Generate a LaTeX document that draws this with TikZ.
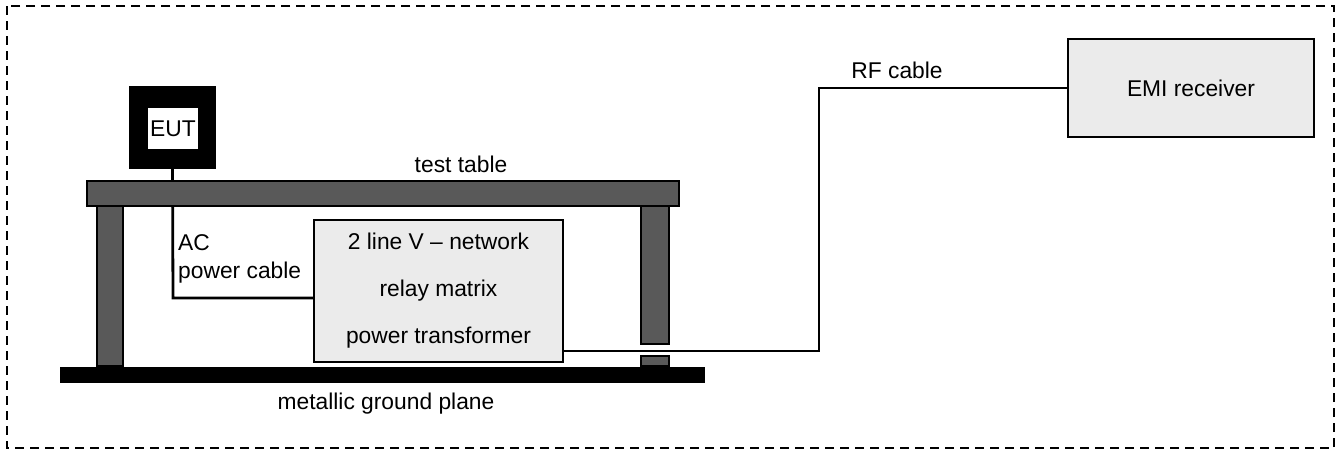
\documentclass[tikz,border=0pt]{standalone}
\usepackage{fontspec}
\setmainfont{Liberation Sans}

\definecolor{tablegray}{HTML}{595959}
\definecolor{boxgray}{HTML}{EBEBEB}

\tikzset{
  txt/.style = {inner sep=0pt, font=\fontsize{22.8}{28}\selectfont},
  unit/.style = {draw=black, fill=boxgray, line width=2.2pt, inner sep=0pt, txt},
  wood/.style = {draw=black, fill=tablegray, line width=1.4pt},
  cable/.style = {line width=2.8pt},
}

\begin{document}
\begin{tikzpicture}[x=1pt, y=-1pt]
        \useasboundingbox (0, 0) rectangle (1340, 450);
        \draw[line width=2pt, dash pattern=on 9pt off 6pt] (7, 6) rectangle (1334, 448);

        % EUT, AC cable and table
        \node[fill=black, minimum width=87pt, minimum height=83pt, inner sep=0pt] (eutcase) at (172.5, 127.5) {};
        \node[fill=white, minimum width=50pt, minimum height=41pt, txt] (eut) at (173, 128.5) {EUT};
        \coordinate (acbend) at (173, 298);
        \node[unit, minimum width=249pt, minimum height=142pt, align=center, font=\fontsize{22.8}{47}\selectfont] (vnet) at (438.5, 291) {2 line V -- network\\relay matrix\\power transformer};
        \draw[cable] (eutcase.south) -- (acbend) -- (acbend -| vnet.west);
        \node[wood, minimum width=592pt, minimum height=25pt, inner sep=0pt] (ttop) at (383, 193.5) {};
        \filldraw[wood] (97, 206) rectangle (123, 366);
        \filldraw[wood] (641, 206) rectangle (669, 344);
        \filldraw[wood] (641, 356) rectangle (669, 366);
        \node[fill=black, minimum width=645pt, minimum height=16pt, inner sep=0pt] (ground) at (382.5, 374.5) {};

        % receiver and RF cable
        \node[unit, minimum width=246pt, minimum height=98pt] (emi) at (1191, 88) {EMI receiver};
        \coordinate (rfbend) at (819, 351);
        \draw[cable] (vnet.east |- rfbend) -- (rfbend) |- (emi.west);

        % labels
        \node[txt, anchor=base] (ttoplabel) at (461, 172) {test table};
        \node[txt, anchor=base] (groundlabel) at (386, 409) {metallic ground plane};
        \node[txt, anchor=base] (rflabel) at (897, 78) {RF cable};
        \node[txt, anchor=north west, align=left] (aclabel) at (178, 234) {AC\\power cable};
\end{tikzpicture}
\end{document}
